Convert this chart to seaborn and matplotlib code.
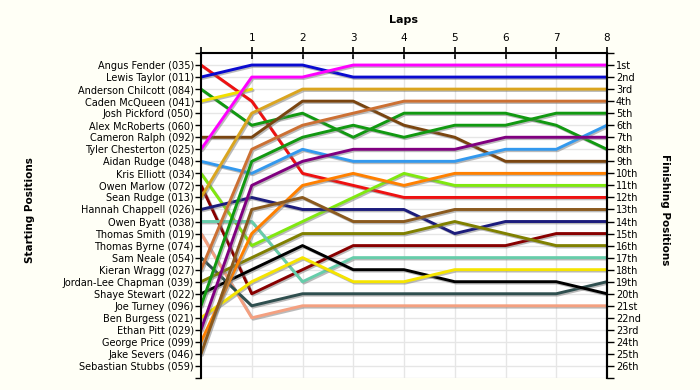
import seaborn as sns
import pandas as pd
import matplotlib.pyplot as plt
from matplotlib import patheffects as pe

# grid order / starting positions
start_labels = ["Angus Fender (035)", "Lewis Taylor (011)", "Anderson Chilcott (084)",
                "Caden McQueen (041)", "Josh Pickford (050)", "Alex McRoberts (060)",
                "Cameron Ralph (092)", "Tyler Chesterton (025)", "Aidan Rudge (048)",
                "Kris Elliott (034)", "Owen Marlow (072)", "Sean Rudge (013)",
                "Hannah Chappell (026)", "Owen Byatt (038)", "Thomas Smith (019)",
                "Thomas Byrne (074)", "Sam Neale (054)", "Kieran Wragg (027)",
                "Jordan-Lee Chapman (039)", "Shaye Stewart (022)", "Joe Turney (096)",
                "Ben Burgess (021)", "Ethan Pitt (029)", "George Price (099)",
                "Jake Severs (046)", "Sebastian Stubbs (059)"]

finish_labels = ["1st", "2nd", "3rd", "4th", "5th", "6th", "7th", "8th", "9th", "10th",
                 "11th", "12th", "13th", "14th", "15th", "16th", "17th", "18th", "19th",
                 "20th", "21st", "22nd", "23rd", "24th", "25th", "26th"]

# position at lap 0..8 (short list = retired)
angus = [1, 4, 10, 11, 12, 12, 12, 12, 12]
lewis = [2, 1, 1, 2, 2, 2, 2, 2, 2]
anderson = [3, 6, 5, 7, 5, 5, 5, 6, 8]
caden = [4, 3]
cameron = [7, 7, 4, 4, 6, 7, 9, 9, 9]
tyler = [8, 2, 2, 1, 1, 1, 1, 1, 1]
aidan = [9, 10, 8, 9, 9, 9, 8, 8, 6]
kris = [10, 16, 14, 12, 10, 11, 11, 11, 11]
owen_m = [11, 20, 18, 16, 16, 16, 16, 15, 15]
sean = [12, 5, 3, 3, 3, 3, 3, 3, 3]
hannah = [13, 12, 13, 13, 13, 15, 14, 14, 14]
owen_b = [14, 14, 19, 17, 17, 17, 17, 17, 17]
thomas_s = [15, 22, 21, 21, 21, 21, 21, 21, 21]
sam = [17, 21, 20, 20, 20, 20, 20, 20, 19]
kieran = [18, 8, 6, 5, 4, 4, 4, 4, 4]
jordan = [19, 17, 15, 15, 15, 14, 15, 16, 16]
shaye = [20, 18, 16, 18, 18, 19, 19, 19, 20]
joe = [21, 9, 7, 6, 7, 6, 6, 5, 5]
ben = [22, 19, 17, 19, 19, 18, 18, 18, 18]
ethan = [23, 11, 9, 8, 8, 8, 7, 7, 7]
george = [24, 15, 11, 10, 11, 10, 10, 10, 10]
jake = [25, 13, 12, 14, 14, 13, 13, 13, 13]

runners = [angus, lewis, anderson, caden, cameron, tyler, aidan, kris, owen_m, sean,
           hannah, owen_b, thomas_s, sam, kieran, jordan, shaye, joe, ben, ethan,
           george, jake]
colors = ["#ee1111", "#0a0ad0", "#119911", "#f2e000", "#7a4510", "#ff00ff", "#3399ee",
          "#80e810", "#880000", "#daa520", "#1c1c7c", "#66cdaa", "#f4a080", "#2f4f4f",
          "#cc7033", "#808000", "#000000", "#119911", "#f5e400", "#800080", "#ff8000",
          "#8b5a1e"]

rows = []
for i, pos in enumerate(runners):
    for lap, p in enumerate(pos):
        rows.append({"driver": i, "lap": lap, "pos": p})
df = pd.DataFrame(rows)

sns.set_style("ticks")
plt.rcParams["font.family"] = ["DejaVu Sans"]
plt.rcParams["text.color"] = "black"
plt.rcParams["xtick.color"] = "black"
plt.rcParams["ytick.color"] = "black"

fig = plt.figure(figsize=(7, 3.9), dpi=100, facecolor="#fffff6")
ax = fig.add_axes([201 / 700, 1 - 378 / 390, 406 / 700, 325 / 390])
ax.set_facecolor("white")

sns.lineplot(data=df, x="lap", y="pos", hue="driver", palette=colors, legend=False,
             linewidth=2.1, estimator=None, sort=False, ax=ax)
for line in ax.lines:
    line.set_path_effects([pe.SimpleLineShadow(offset=(1, -1), shadow_color="#777777", alpha=0.5),
                           pe.Normal()])

ax.set_xlim(0, 8)
ax.set_ylim(27, 0)
ax.xaxis.tick_top()
ax.set_xticks(range(9))
ax.set_xticklabels([""] + [str(i) for i in range(1, 9)], fontsize=7.5)
ax.set_yticks(range(0, 28))
ax.set_yticklabels([""] + start_labels + [""], fontsize=7)
ax.tick_params(axis="x", direction="inout", length=8, width=1.2, pad=3)
ax.tick_params(axis="y", direction="out", length=4, width=1, pad=1)
ax.grid(True, color="#e6e6e6", linewidth=1)
ax.set_xlabel("")
ax.set_ylabel("")
for side in ["left", "right", "top"]:
    ax.spines[side].set_linewidth(1.5)
    ax.spines[side].set_color("black")
ax.spines["bottom"].set_visible(False)

ax2 = ax.twinx()
ax2.set_ylim(27, 0)
ax2.set_yticks(range(0, 28))
ax2.set_yticklabels([""] + finish_labels + [""], fontsize=7)
ax2.tick_params(axis="y", direction="out", length=5, width=1, pad=1.5)
for side in ["left", "top", "bottom"]:
    ax2.spines[side].set_visible(False)
ax2.spines["right"].set_linewidth(1.5)
ax2.spines["right"].set_color("black")

fig.text(404 / 700, 1 - 20 / 390, "Laps", ha="center", va="center", fontsize=8, fontweight="bold")
fig.text(30 / 700, 1 - 210 / 390, "Starting Positions", ha="center", va="center",
         rotation=90, fontsize=7.5, fontweight="bold")
fig.text(665 / 700, 1 - 210 / 390, "Finishing Positions", ha="center", va="center",
         rotation=270, fontsize=7.5, fontweight="bold")

fig.savefig("out.png", dpi=100, facecolor=fig.get_facecolor())
